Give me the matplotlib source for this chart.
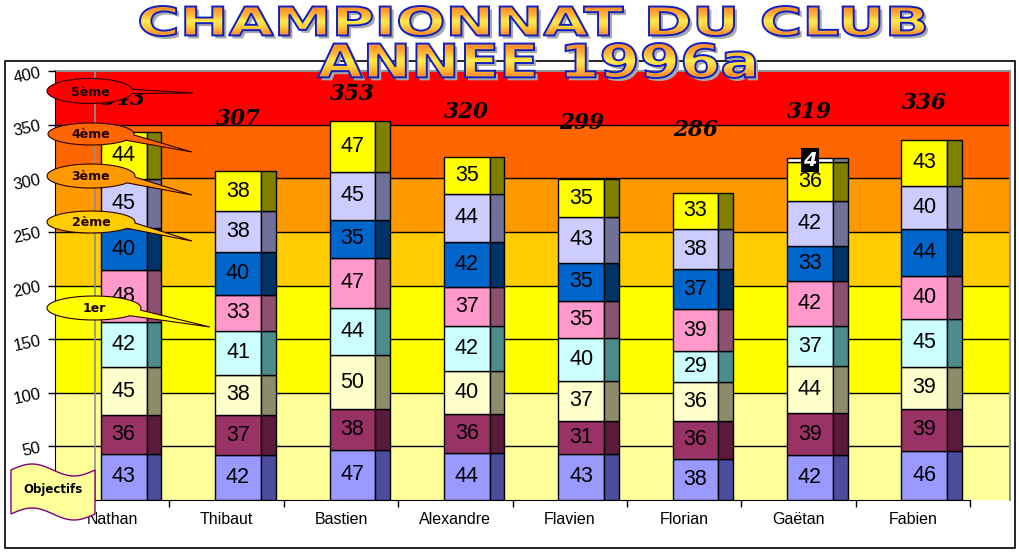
import numpy as np
import matplotlib
matplotlib.use("Agg")
import matplotlib.pyplot as plt
from matplotlib.patches import PathPatch, Polygon, Rectangle
from matplotlib.textpath import TextPath
from matplotlib.font_manager import FontProperties
from matplotlib.transforms import Affine2D

# ---- data ----
players = ["Nathan", "Thibaut", "Bastien", "Alexandre", "Flavien", "Florian", "Gaëtan", "Fabien"]
# one list per stacked series, bottom to top
s1 = [43, 42, 47, 44, 43, 38, 42, 46]
s2 = [36, 37, 38, 36, 31, 36, 39, 39]
s3 = [45, 38, 50, 40, 37, 36, 44, 39]
s4 = [42, 41, 44, 42, 40, 29, 37, 45]
s5 = [48, 33, 47, 37, 35, 39, 42, 40]
s6 = [40, 40, 35, 42, 35, 37, 33, 44]
s7 = [45, 38, 45, 44, 43, 38, 42, 40]
s8 = [44, 38, 47, 35, 35, 33, 36, 43]
bonus = [0, 0, 0, 0, 0, 0, 4, 0]
series = [s1, s2, s3, s4, s5, s6, s7, s8]

band_edges = [0, 100, 200, 250, 300, 350, 400]
band_names = ["1er", "2ème", "3ème", "4ème", "5ème"]
yticks = [0, 50, 100, 150, 200, 250, 300, 350, 400]

# ---- styles ----
face_colors = ["#9999FF", "#993366", "#FFFFCC", "#CCFFFF", "#FF99CC", "#0066CC", "#CCCCFF", "#FFFF00"]
side_colors = ["#4D4D9E", "#5A1A3A", "#8C8C6A", "#4D8C8C", "#8C5070", "#003366", "#707099", "#808000"]
band_colors = ["#FFFF99", "#FFFF00", "#FFCC00", "#FF9900", "#FF6600", "#FF0000"]

W, H = 1020, 554
fig = plt.figure(figsize=(W / 100, H / 100), dpi=100)
fig.patch.set_facecolor("white")


def fx(px):
    return px / W


def fy(py):
    return 1 - py / H


# background plot area (bands + gridlines)
left, right_bg, right_cat, top, bottom = 55, 1010, 970, 71, 500
ax_bg = fig.add_axes([fx(left), fy(bottom), fx(right_bg - left), fy(top) - fy(bottom)])
ax_bg.set_xlim(0, 1)
ax_bg.set_ylim(0, 400)
for k in range(len(band_colors)):
    ax_bg.axhspan(band_edges[k], band_edges[k + 1], color=band_colors[k], lw=0)
for t in yticks[1:-1]:
    ax_bg.axhline(t, color="black", lw=1)
ax_bg.set_xticks([])
ax_bg.set_yticks([])
for s in ["left", "bottom"]:
    ax_bg.spines[s].set_visible(False)
for s in ["top", "right"]:
    ax_bg.spines[s].set_color("#909090")
    ax_bg.spines[s].set_linewidth(1.5)

# main axes with the bars
ax = fig.add_axes([fx(left), fy(bottom), fx(right_cat - left), fy(top) - fy(bottom)])
ax.patch.set_alpha(0)
ax.set_xlim(-0.5, len(players) - 0.5)
ax.set_ylim(0, 400)
ax.axvline(-0.15, color="#909090", lw=1.2, zorder=1)

x = np.arange(len(players))
bottoms = np.zeros(len(players))
for j, vals in enumerate(series):
    vals = np.array(vals, dtype=float)
    ax.bar(x - 0.10, vals, width=0.40, bottom=bottoms, align="edge",
           color=face_colors[j], edgecolor="black", lw=1, zorder=3)
    ax.bar(x + 0.30, vals, width=0.13, bottom=bottoms, align="edge",
           color=side_colors[j], edgecolor="black", lw=1, zorder=3)
    for i, v in enumerate(vals):
        ax.text(i + 0.10, bottoms[i] + v / 2, f"{int(v)}", ha="center", va="center",
                fontsize=15.5, family="Liberation Sans", color="black", zorder=4)
    bottoms += vals

b = np.array(bonus, dtype=float)
for i, v in enumerate(b):
    if v > 0:
        ax.bar(i - 0.10, v, width=0.40, bottom=bottoms[i], align="edge",
               color="white", edgecolor="black", lw=1, zorder=3)
        ax.bar(i + 0.30, v, width=0.13, bottom=bottoms[i], align="edge",
               color="#808080", edgecolor="black", lw=1, zorder=3)
        ax.text(i + 0.10, bottoms[i] + v / 2, f"{int(v)}", ha="center", va="center",
                fontsize=14, family="DejaVu Sans", weight="bold", style="italic",
                color="white", zorder=6,
                bbox=dict(boxstyle="square,pad=0.12", fc="black", ec="none"))
totals = bottoms + b

for i, t in enumerate(totals):
    ax.text(i + 0.10, (t + 400) / 2 + 2, f"{int(t)}", ha="center", va="center",
            fontsize=15.5, family="DejaVu Serif", weight="bold", style="italic",
            color="black", zorder=5)

ax.set_xticks(np.arange(len(players) + 1) - 0.5, minor=False)
ax.set_xticklabels([])
ax.set_xticks(x, minor=True)
ax.set_xticklabels(players, minor=True, fontsize=11.5, family="Liberation Sans")
ax.tick_params(axis="x", which="major", direction="out", length=5, width=1)
ax.tick_params(axis="x", which="minor", length=0, pad=9)
ax.set_yticks(yticks)
ax.set_yticklabels([str(t) for t in yticks], fontsize=12, family="Liberation Sans", rotation=12)
ax.tick_params(axis="y", direction="out", length=5, width=1, pad=4)
for s in ["top", "right"]:
    ax.spines[s].set_visible(False)
ax.spines["left"].set_color("black")
ax.spines["bottom"].set_color("black")

# ---- overlay (pixel coordinates) ----
ov = fig.add_axes([0, 0, 1, 1], zorder=10)
ov.set_xlim(0, W)
ov.set_ylim(H, 0)
ov.axis("off")
ov.patch.set_alpha(0)

# outer frame
ov.add_patch(Rectangle((5, 61), 1010, 487, fill=False, ec="black", lw=1.2))


def callout(cx, cy, rx, ry, tip, t1, t2, color, label):
    ts = np.radians(np.linspace(t2, t1 + 360, 80))
    pts = [tip] + [(cx + rx * np.cos(t), cy + ry * np.sin(t)) for t in ts]
    ov.add_patch(Polygon(pts, closed=True, fc=color, ec="#300000", lw=0.8))
    ov.text(cx, cy + 1, label, ha="center", va="center", fontsize=9,
            weight="bold", family="DejaVu Sans", color="#200000")


callout(90, 91, 43, 12.5, (193, 93), -8, 12, band_colors[5], band_names[4])
callout(91, 134, 43, 11, (192, 152), 5, 35, band_colors[4], band_names[3])
callout(91, 176, 44, 12, (192, 195), 5, 35, band_colors[3], band_names[2])
callout(91, 222, 44, 11, (192, 241), 5, 35, band_colors[2], band_names[1])
callout(94, 308, 47, 12, (210, 327), 10, 40, band_colors[1], band_names[0])

# "Objectifs" flag
xs = np.linspace(11, 95, 60)
top_edge = 470 + 6 * np.sin(2 * np.pi * (xs - 11) / 84 + np.pi)
flag = list(zip(xs, top_edge)) + list(zip(xs[::-1], top_edge[::-1] + 44))
ov.add_patch(Polygon(flag, closed=True, fc="#FFFF99", ec="#800080", lw=1))
ov.text(53, 490, "Objectifs", ha="center", va="center", fontsize=8.5,
        weight="bold", family="DejaVu Sans", color="black")

# WordArt-like title
prop = FontProperties(family="DejaVu Sans", weight="bold")


def word_art(s, x0, x1, y0, y1):
    tp = TextPath((0, 0), s, size=100, prop=prop)
    ext = tp.get_extents()
    tr = Affine2D().translate(-ext.x0, -ext.y0).scale((x1 - x0) / ext.width,
                                                     -(y1 - y0) / ext.height).translate(x0, y1)
    path = tr.transform_path(tp)
    shadow = Affine2D().translate(3, 3).transform_path(path)
    ov.add_patch(PathPatch(shadow, fc="#A8A8A8", ec="none", zorder=1))
    grad = np.array([[1.0, 0.58, 0.18], [1.0, 0.72, 0.2], [1.0, 0.92, 0.3],
                     [1.0, 0.8, 0.22], [1.0, 0.6, 0.18]])
    img = np.repeat(grad[:, None, :], 2, axis=1)
    im = ov.imshow(img, extent=(x0, x1, y1, y0), origin="upper", aspect="auto",
                   interpolation="bilinear", zorder=2)
    clip = PathPatch(path, transform=ov.transData)
    im.set_clip_path(clip)
    ov.add_patch(PathPatch(path, fc="none", ec="#1020C0", lw=1.4, zorder=3))


word_art("CHAMPIONNAT DU CLUB", 140, 925, 6, 36)
word_art("ANNEE 1996a", 318, 755, 43, 78)
ov.set_xlim(0, W)
ov.set_ylim(H, 0)

fig.savefig("out.png", dpi=100)
